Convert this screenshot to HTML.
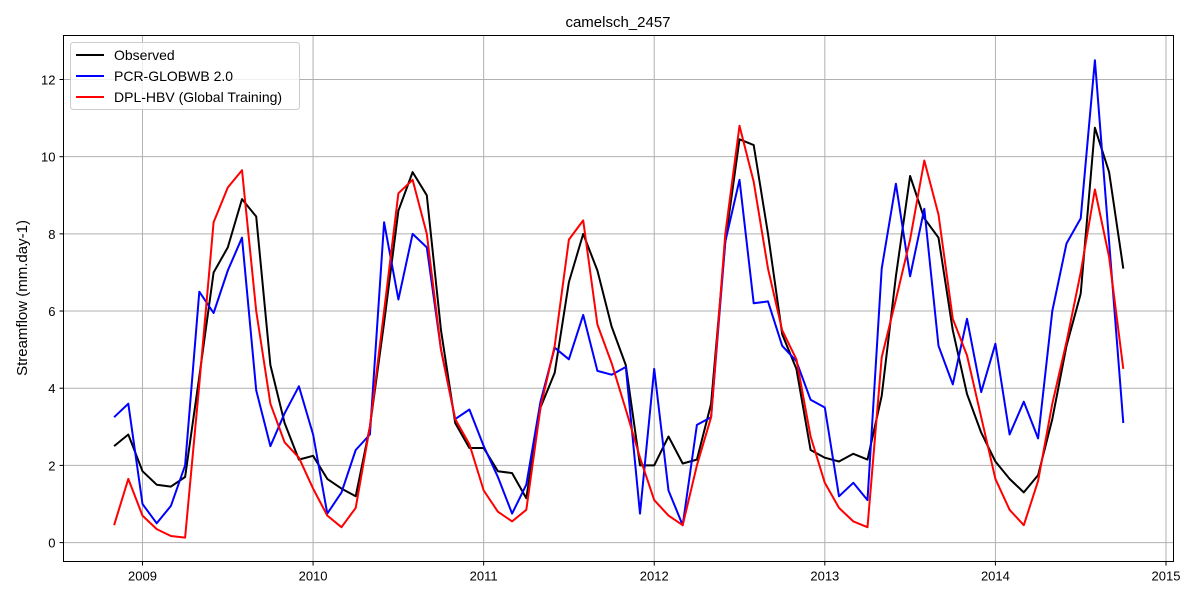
<!DOCTYPE html>
<html><head><meta charset="utf-8"><style>
body{margin:0;background:#fff;}
svg text{font-family:"Liberation Sans","DejaVu Sans",sans-serif;}
</style></head><body>
<svg id="chart" width="1200" height="600" xmlns="http://www.w3.org/2000/svg">
<rect width="1200" height="600" fill="#fff"/>
<text x="618" y="27" font-size="15" text-anchor="middle">camelsch_2457</text>
<text transform="translate(27,298) rotate(-90)" font-size="15" text-anchor="middle">Streamflow (mm.day-1)</text>
<g id="grid"></g>
<g id="series"></g>
<rect x="63.5" y="35.5" width="1110" height="526" fill="none" stroke="#000" stroke-width="1"/>
<g id="ticks"></g>
<g>
<rect x="70.5" y="42.5" width="229" height="67" rx="3" fill="#fff" fill-opacity="0.8" stroke="#ccc"/>
<line x1="76" y1="55" x2="104" y2="55" stroke="#000" stroke-width="2"/>
<text x="114" y="60" font-size="14">Observed</text>
<line x1="76" y1="76" x2="104" y2="76" stroke="#0000ff" stroke-width="2"/>
<text x="114" y="81" font-size="14">PCR-GLOBWB 2.0</text>
<line x1="76" y1="97" x2="104" y2="97" stroke="#ff0000" stroke-width="2"/>
<text x="114" y="102" font-size="14">DPL-HBV (Global Training)</text>
</g>
</svg>
<script>
const startYear = 2008, startMonth = 11;
const observed = [2.5,2.8,1.85,1.5,1.45,1.7,4.3,7.0,7.65,8.9,8.45,4.6,3.1,2.15,2.25,1.65,1.4,1.2,3.0,5.7,8.6,9.6,9.0,5.5,3.1,2.45,2.45,1.85,1.8,1.15,3.5,4.4,6.75,8.0,7.05,5.6,4.6,2.0,2.0,2.75,2.05,2.15,3.6,7.8,10.45,10.3,8.0,5.4,4.5,2.4,2.2,2.1,2.3,2.15,3.8,6.9,9.5,8.4,7.9,5.5,3.85,2.85,2.1,1.65,1.3,1.75,3.2,5.1,6.45,10.75,9.6,7.1];
const pcrGlobwb = [3.25,3.6,1.0,0.5,0.95,2.0,6.5,5.95,7.05,7.9,3.95,2.5,3.35,4.05,2.8,0.75,1.3,2.4,2.8,8.3,6.3,8.0,7.65,5.0,3.2,3.45,2.5,1.7,0.75,1.5,3.65,5.05,4.75,5.9,4.45,4.35,4.55,0.75,4.5,1.35,0.45,3.05,3.25,7.8,9.4,6.2,6.25,5.1,4.7,3.7,3.5,1.2,1.55,1.1,7.1,9.3,6.9,8.65,5.1,4.1,5.8,3.9,5.15,2.8,3.65,2.7,6.0,7.75,8.4,12.5,7.8,3.1];
const dplHbv = [0.45,1.65,0.7,0.35,0.17,0.13,4.1,8.3,9.2,9.65,6.0,3.6,2.6,2.2,1.4,0.7,0.4,0.9,3.0,6.0,9.05,9.4,8.0,5.0,3.2,2.55,1.35,0.8,0.55,0.85,3.5,5.1,7.85,8.35,5.65,4.65,3.45,2.2,1.1,0.7,0.45,2.0,3.25,8.0,10.8,9.35,7.1,5.5,4.75,2.75,1.55,0.9,0.55,0.4,4.8,6.3,7.85,9.9,8.5,5.8,4.85,3.25,1.65,0.85,0.45,1.6,3.6,5.2,7.0,9.15,7.4,4.5];
const xTicks = [2009,2010,2011,2012,2013,2014,2015];
const yTicks = [0,2,4,6,8,10,12];

const NS="http://www.w3.org/2000/svg";
const L=63.5,R=1173.5,T=35.5,B=561.5;
const x0=2008.537,x1=2015.044,y0=-0.49,y1=13.14;
function xs(t){return L+(t-x0)/(x1-x0)*(R-L);}
function ys(v){return B-(v-y0)/(y1-y0)*(B-T);}
function tOf(i){return startYear+(startMonth-1+i)/12;}
const grid=document.getElementById('grid'),ticks=document.getElementById('ticks'),ser=document.getElementById('series');
function mk(tag,attrs,parent){const e=document.createElementNS(NS,tag);for(const k in attrs)e.setAttribute(k,attrs[k]);parent.appendChild(e);return e;}
xTicks.forEach(t=>{
  const x=xs(t);
  const g=mk('line',{x1:x,x2:x,y1:T,y2:B,stroke:'#b0b0b0','stroke-width':1},grid);
  
  
  mk('line',{x1:x,x2:x,y1:B,y2:B+4,stroke:'#000'},ticks);
  const tx=mk('text',{x:x,y:B+19,'font-size':13,'text-anchor':'middle'},ticks);
  tx.textContent=t;
  
  
});
yTicks.forEach(v=>{
  const y=ys(v);
  const g=mk('line',{x1:L,x2:R,y1:y,y2:y,stroke:'#b0b0b0','stroke-width':1},grid);
  
  
  mk('line',{x1:L-4,x2:L,y1:y,y2:y,stroke:'#000'},ticks);
  const tx=mk('text',{x:L-8,y:y+5,'font-size':13,'text-anchor':'end'},ticks);
  tx.textContent=v;
  
  
});
function line(data,color,name){
  const pts=data.map((v,i)=>xs(tOf(i)).toFixed(1)+','+ys(v).toFixed(1)).join(' ');
  const p=mk('polyline',{points:pts,fill:'none',stroke:color,'stroke-width':2,'stroke-linejoin':'round'},ser);
  
  
}
line(observed,'#000000','observed-line');
line(pcrGlobwb,'#0000ff','pcr-globwb-line');
line(dplHbv,'#ff0000','dpl-hbv-line');
</script>
</body></html>
